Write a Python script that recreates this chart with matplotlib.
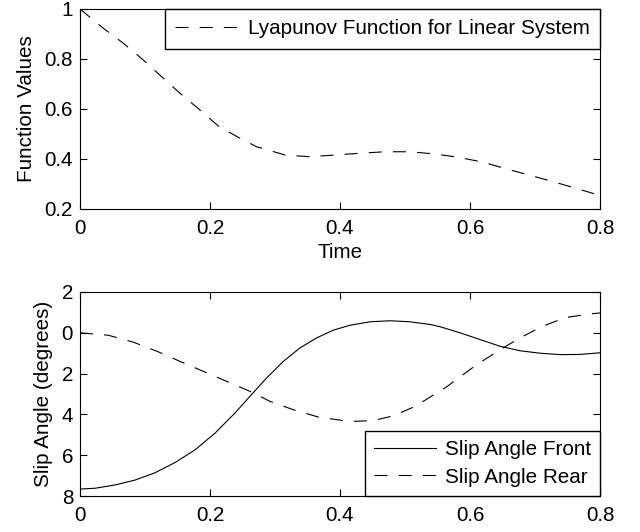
import matplotlib
matplotlib.use("Agg")
import matplotlib.pyplot as plt

plt.rcParams['font.family'] = ['Liberation Sans', 'DejaVu Sans']
plt.rcParams['lines.scale_dashes'] = False

# Top panel: Lyapunov function
t_lyap = [0.0, 0.0359, 0.0667, 0.0974, 0.1256, 0.1538, 0.1846, 0.2128, 0.246,
          0.2718, 0.3154, 0.3538, 0.3923, 0.4308, 0.4692, 0.5077, 0.5462, 0.582,
          0.6205, 0.6564, 0.695, 0.7308, 0.7667, 0.8]
v_lyap = [1.0, 0.923, 0.863, 0.796, 0.729, 0.663, 0.596, 0.532, 0.483,
          0.449, 0.416, 0.409, 0.416, 0.423, 0.429, 0.429, 0.420, 0.407,
          0.387, 0.360, 0.333, 0.307, 0.280, 0.254]

# Bottom panel: slip angles
t_front = [0.0, 0.0231, 0.0538, 0.0846, 0.1154, 0.1462, 0.1769, 0.2077, 0.2385,
           0.2641, 0.2872, 0.3128, 0.3385, 0.3641, 0.3897, 0.4154, 0.4462, 0.4769,
           0.5077, 0.5385, 0.5538, 0.5846, 0.6154, 0.6462, 0.6769, 0.7077, 0.7385,
           0.7692, 0.8]
v_front = [-7.66, -7.62, -7.46, -7.22, -6.86, -6.36, -5.74, -4.92, -3.93,
           -3.02, -2.21, -1.40, -0.74, -0.25, 0.13, 0.37, 0.54, 0.59,
           0.54, 0.41, 0.30, 0.0, -0.33, -0.66, -0.88, -1.00, -1.07,
           -1.06, -0.98]
t_rear = [0.0, 0.0436, 0.0821, 0.118, 0.1538, 0.1897, 0.2256, 0.2615, 0.2923,
          0.3282, 0.3667, 0.4154, 0.4513, 0.4821, 0.5154, 0.564, 0.6103, 0.651,
          0.677, 0.71, 0.746, 0.785, 0.8]
v_rear = [0.0, -0.12, -0.46, -0.90, -1.40, -1.89, -2.38, -2.87, -3.36,
          -3.77, -4.13, -4.35, -4.30, -4.07, -3.61, -2.65, -1.56, -0.74,
          -0.25, 0.30, 0.74, 0.93, 0.97]

x_ticks = [0, 0.2, 0.4, 0.6, 0.8]
x_ticklabels = ["0", "0.2", "0.4", "0.6", "0.8"]
top_yticks = [0.2, 0.4, 0.6, 0.8, 1.0]
top_yticklabels = ["0.2", "0.4", "0.6", "0.8", "1"]
bot_yticks = [-8, -6, -4, -2, 0, 2]
bot_yticklabels = ["8", "6", "4", "2", "0", "2"]

FS = 14.9
DASH = (9.4, 8.0)

fig = plt.figure(figsize=(6.4, 5.32), dpi=100)
ax1 = fig.add_axes([80/640, 1-209/532, 520/640, 200/532])
ax2 = fig.add_axes([80/640, 1-496/532, 520/640, 204/532])

for ax in (ax1, ax2):
    ax.tick_params(direction='in', length=5, width=0.8, top=True, right=True,
                   labelsize=FS)
    ax.tick_params(axis='x', pad=7)
    ax.tick_params(axis='y', pad=5)
    for s in ax.spines.values():
        s.set_linewidth(0.8)
    ax.set_xlim(0, 0.8)
    ax.set_xticks(x_ticks)
    ax.set_xticklabels(x_ticklabels)

ax1.plot(t_lyap, v_lyap, color='black', lw=0.8, linestyle='--', dashes=DASH,
         label='Lyapunov Function for Linear System')
ax1.set_ylim(0.2, 1.0)
ax1.set_yticks(top_yticks)
ax1.set_yticklabels(top_yticklabels)
ax1.set_xlabel('Time', fontsize=FS, labelpad=4)
ax1.set_ylabel('Function Values', fontsize=FS, labelpad=6)
leg1 = ax1.legend(loc='upper right', borderaxespad=0, fontsize=FS, fancybox=False,
                  framealpha=1, edgecolor='black', handlelength=3.05, handletextpad=0.45,
                  borderpad=0.5)
leg1.get_frame().set_linewidth(1.0)

ax2.plot(t_front, v_front, color='black', lw=0.8, label='Slip Angle Front')
ax2.plot(t_rear, v_rear, color='black', lw=0.8, linestyle='--', dashes=DASH,
         label='Slip Angle Rear')
ax2.set_ylim(-8, 2)
ax2.set_yticks(bot_yticks)
ax2.set_yticklabels(bot_yticklabels)
ax2.set_ylabel('Slip Angle (degrees)', fontsize=FS, labelpad=6)
leg2 = ax2.legend(loc='lower right', borderaxespad=0, fontsize=FS, fancybox=False,
                  framealpha=1, edgecolor='black', handlelength=3.0, handletextpad=0.4,
                  borderpad=0.45, labelspacing=0.4)
leg2.get_frame().set_linewidth(1.0)

fig.savefig('out.png', dpi=100)
